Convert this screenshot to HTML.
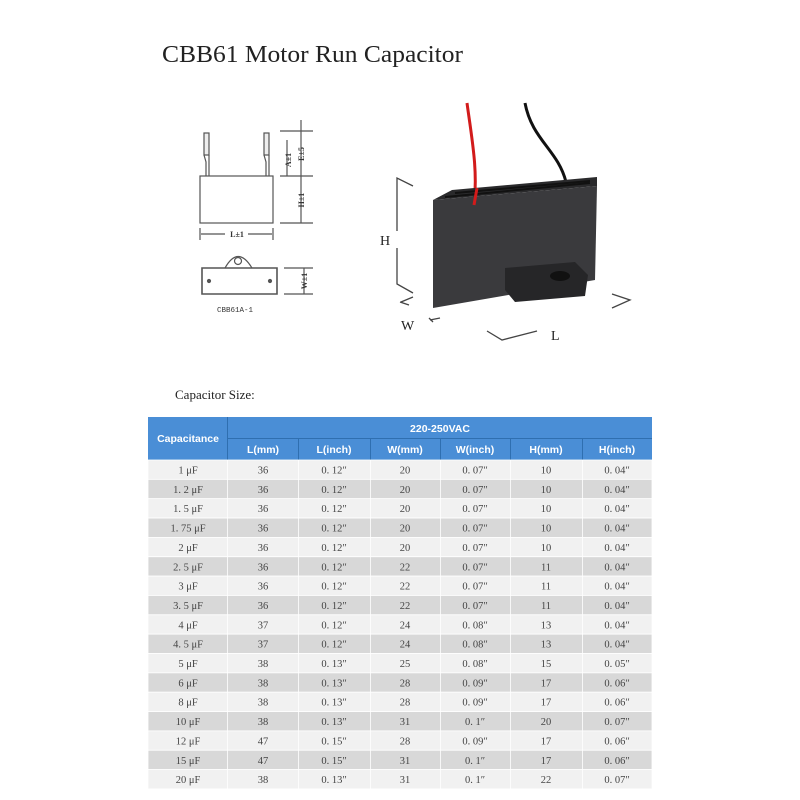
<!DOCTYPE html>
<html><head><meta charset="utf-8"><style>
html,body{margin:0;padding:0;background:#fff;}
svg{display:block;}
</style></head><body>
<svg width="800" height="800" viewBox="0 0 800 800" xmlns="http://www.w3.org/2000/svg">
<rect width="800" height="800" fill="#fff"/>
<text x="162" y="62" font-family="Liberation Serif, serif" font-size="24" fill="#222" textLength="301" lengthAdjust="spacingAndGlyphs">CBB61 Motor Run Capacitor</text>

<g stroke="#555" stroke-width="1.2" fill="none">
  <rect x="200" y="176" width="73" height="47" fill="#fff"/>
  <rect x="204" y="133" width="5" height="22" fill="#eee"/>
  <path d="M204 155 L206 162 L206 176 M209 155 L209 176"/>
  <rect x="264" y="133" width="5" height="22" fill="#eee"/>
  <path d="M264 155 L266 162 L266 176 M269 155 L269 176"/>
  <path d="M280 131 H313 M280 176 H313 M280 223 H313"/>
  <path d="M301 120 V223"/>
  <path d="M287 140 V176"/>
  <path d="M200 228 V240 M273 228 V240 M201 234 H225 M248 234 H272"/>
  <path d="M202 268 H277 V294 H202 Z" stroke-width="1.6"/>
  <path d="M225 268 Q238 245 252 268"/>
  <circle cx="238" cy="261" r="3.5"/>
  <circle cx="209" cy="281" r="1.5" fill="#555"/>
  <circle cx="270" cy="281" r="1.5" fill="#555"/>
  <path d="M284 268 H313 M284 294 H313 M304 268 V294"/>
</g>
<g font-family="Liberation Serif, serif" font-size="8" fill="#333" font-weight="bold">
  <text x="237" y="237" text-anchor="middle">L±1</text>
  <text transform="translate(291,160) rotate(-90)" text-anchor="middle">A±1</text>
  <text transform="translate(304,154) rotate(-90)" text-anchor="middle">E±5</text>
  <text transform="translate(304,200) rotate(-90)" text-anchor="middle">H±1</text>
  <text transform="translate(307,281) rotate(-90)" text-anchor="middle">W±1</text>
  <text x="217" y="312" font-weight="normal" font-family="Liberation Mono, monospace" font-size="7.5">CBB61A-1</text>
</g>

<path d="M467 103 C472 140 478 170 474 205" stroke="#d21b1b" stroke-width="3" fill="none"/>
<path d="M525 103 C532 140 558 150 566 182" stroke="#111" stroke-width="3" fill="none"/>
<polygon points="433,200 597,186 597,177 452,190" fill="#2a2a2c"/>
<path d="M445 197 L590 183 M455 193 L590 181" stroke="#111" stroke-width="2"/>
<polygon points="433,200 597,186 595,280 433,308" fill="#3a3a3d"/>
<polygon points="505,268 575,262 588,275 585,296 515,302 505,290" fill="#262628"/>
<ellipse cx="560" cy="276" rx="10" ry="5" fill="#111"/>
<path d="M474 205 L477 188" stroke="#d21b1b" stroke-width="3"/>

<g stroke="#444" stroke-width="1.3" fill="none">
  <path d="M413 186 L397 178 V231"/>
  <path d="M397 248 V284 L413 293"/>
  <path d="M401 302 L413 297 M400 302 L409 305"/>
  <path d="M430 320 L440 318 M429 318 L433 322"/>
  <path d="M487 331 L502 340 L537 331"/>
  <path d="M612 294 L630 300 L612 308"/>
</g>
<g font-family="Liberation Serif, serif" font-size="14" fill="#222">
  <text x="380" y="245">H</text>
  <text x="401" y="330">W</text>
  <text x="551" y="340">L</text>
</g>

<text x="175" y="399" font-family="Liberation Serif, serif" font-size="13" fill="#222">Capacitor Size:</text>

<g font-family="Liberation Sans, sans-serif" font-weight="bold" font-size="10.5" fill="#fff" text-anchor="middle">
  <rect x="148" y="417" width="504" height="43" fill="#4a8ed6"/>
  <g stroke="#2f6fb0" stroke-width="1">
    <line x1="227.5" y1="417" x2="227.5" y2="460"/>
    <line x1="227" y1="438.5" x2="652" y2="438.5"/>
    <line x1="298.5" y1="438" x2="298.5" y2="460"/>
    <line x1="370.5" y1="438" x2="370.5" y2="460"/>
    <line x1="440.5" y1="438" x2="440.5" y2="460"/>
    <line x1="510.5" y1="438" x2="510.5" y2="460"/>
    <line x1="582.5" y1="438" x2="582.5" y2="460"/>
  </g>
  <text x="188" y="442">Capacitance</text>
  <text x="440" y="432">220-250VAC</text>
  <text x="263" y="453">L(mm)</text>
  <text x="334" y="453">L(inch)</text>
  <text x="405" y="453">W(mm)</text>
  <text x="475" y="453">W(inch)</text>
  <text x="546" y="453">H(mm)</text>
  <text x="617" y="453">H(inch)</text>
</g>

<g stroke="#fff" stroke-width="0.8">
<rect x="148" y="460" width="504" height="19.35" fill="#f1f1f1"/>
<rect x="148" y="479.35" width="504" height="19.35" fill="#d8d8d8"/>
<rect x="148" y="498.7" width="504" height="19.35" fill="#f1f1f1"/>
<rect x="148" y="518.05" width="504" height="19.35" fill="#d8d8d8"/>
<rect x="148" y="537.4" width="504" height="19.35" fill="#f1f1f1"/>
<rect x="148" y="556.75" width="504" height="19.35" fill="#d8d8d8"/>
<rect x="148" y="576.1" width="504" height="19.35" fill="#f1f1f1"/>
<rect x="148" y="595.45" width="504" height="19.35" fill="#d8d8d8"/>
<rect x="148" y="614.8" width="504" height="19.35" fill="#f1f1f1"/>
<rect x="148" y="634.15" width="504" height="19.35" fill="#d8d8d8"/>
<rect x="148" y="653.5" width="504" height="19.35" fill="#f1f1f1"/>
<rect x="148" y="672.85" width="504" height="19.35" fill="#d8d8d8"/>
<rect x="148" y="692.2" width="504" height="19.35" fill="#f1f1f1"/>
<rect x="148" y="711.55" width="504" height="19.35" fill="#d8d8d8"/>
<rect x="148" y="730.9" width="504" height="19.35" fill="#f1f1f1"/>
<rect x="148" y="750.25" width="504" height="19.35" fill="#d8d8d8"/>
<rect x="148" y="769.6" width="504" height="19.35" fill="#f1f1f1"/>
<line x1="227.5" y1="460" x2="227.5" y2="789"/>
<line x1="298.5" y1="460" x2="298.5" y2="789"/>
<line x1="370.5" y1="460" x2="370.5" y2="789"/>
<line x1="440.5" y1="460" x2="440.5" y2="789"/>
<line x1="510.5" y1="460" x2="510.5" y2="789"/>
<line x1="582.5" y1="460" x2="582.5" y2="789"/>
</g>

<g font-family="Liberation Serif, serif" font-size="10.5" fill="#444" text-anchor="middle">
<g transform="translate(0,473.5)"><text x="188">1 μF</text><text x="263">36</text><text x="334">0. 12″</text><text x="405">20</text><text x="475">0. 07″</text><text x="546">10</text><text x="617">0. 04″</text></g>
<g transform="translate(0,492.85)"><text x="188">1. 2 μF</text><text x="263">36</text><text x="334">0. 12″</text><text x="405">20</text><text x="475">0. 07″</text><text x="546">10</text><text x="617">0. 04″</text></g>
<g transform="translate(0,512.2)"><text x="188">1. 5 μF</text><text x="263">36</text><text x="334">0. 12″</text><text x="405">20</text><text x="475">0. 07″</text><text x="546">10</text><text x="617">0. 04″</text></g>
<g transform="translate(0,531.55)"><text x="188">1. 75 μF</text><text x="263">36</text><text x="334">0. 12″</text><text x="405">20</text><text x="475">0. 07″</text><text x="546">10</text><text x="617">0. 04″</text></g>
<g transform="translate(0,550.9)"><text x="188">2 μF</text><text x="263">36</text><text x="334">0. 12″</text><text x="405">20</text><text x="475">0. 07″</text><text x="546">10</text><text x="617">0. 04″</text></g>
<g transform="translate(0,570.25)"><text x="188">2. 5 μF</text><text x="263">36</text><text x="334">0. 12″</text><text x="405">22</text><text x="475">0. 07″</text><text x="546">11</text><text x="617">0. 04″</text></g>
<g transform="translate(0,589.6)"><text x="188">3 μF</text><text x="263">36</text><text x="334">0. 12″</text><text x="405">22</text><text x="475">0. 07″</text><text x="546">11</text><text x="617">0. 04″</text></g>
<g transform="translate(0,608.95)"><text x="188">3. 5 μF</text><text x="263">36</text><text x="334">0. 12″</text><text x="405">22</text><text x="475">0. 07″</text><text x="546">11</text><text x="617">0. 04″</text></g>
<g transform="translate(0,628.3)"><text x="188">4 μF</text><text x="263">37</text><text x="334">0. 12″</text><text x="405">24</text><text x="475">0. 08″</text><text x="546">13</text><text x="617">0. 04″</text></g>
<g transform="translate(0,647.65)"><text x="188">4. 5 μF</text><text x="263">37</text><text x="334">0. 12″</text><text x="405">24</text><text x="475">0. 08″</text><text x="546">13</text><text x="617">0. 04″</text></g>
<g transform="translate(0,667)"><text x="188">5 μF</text><text x="263">38</text><text x="334">0. 13″</text><text x="405">25</text><text x="475">0. 08″</text><text x="546">15</text><text x="617">0. 05″</text></g>
<g transform="translate(0,686.35)"><text x="188">6 μF</text><text x="263">38</text><text x="334">0. 13″</text><text x="405">28</text><text x="475">0. 09″</text><text x="546">17</text><text x="617">0. 06″</text></g>
<g transform="translate(0,705.7)"><text x="188">8 μF</text><text x="263">38</text><text x="334">0. 13″</text><text x="405">28</text><text x="475">0. 09″</text><text x="546">17</text><text x="617">0. 06″</text></g>
<g transform="translate(0,725.05)"><text x="188">10 μF</text><text x="263">38</text><text x="334">0. 13″</text><text x="405">31</text><text x="475">0. 1″</text><text x="546">20</text><text x="617">0. 07″</text></g>
<g transform="translate(0,744.4)"><text x="188">12 μF</text><text x="263">47</text><text x="334">0. 15″</text><text x="405">28</text><text x="475">0. 09″</text><text x="546">17</text><text x="617">0. 06″</text></g>
<g transform="translate(0,763.75)"><text x="188">15 μF</text><text x="263">47</text><text x="334">0. 15″</text><text x="405">31</text><text x="475">0. 1″</text><text x="546">17</text><text x="617">0. 06″</text></g>
<g transform="translate(0,783.1)"><text x="188">20 μF</text><text x="263">38</text><text x="334">0. 13″</text><text x="405">31</text><text x="475">0. 1″</text><text x="546">22</text><text x="617">0. 07″</text></g>
</g>
</svg>
</body></html>
